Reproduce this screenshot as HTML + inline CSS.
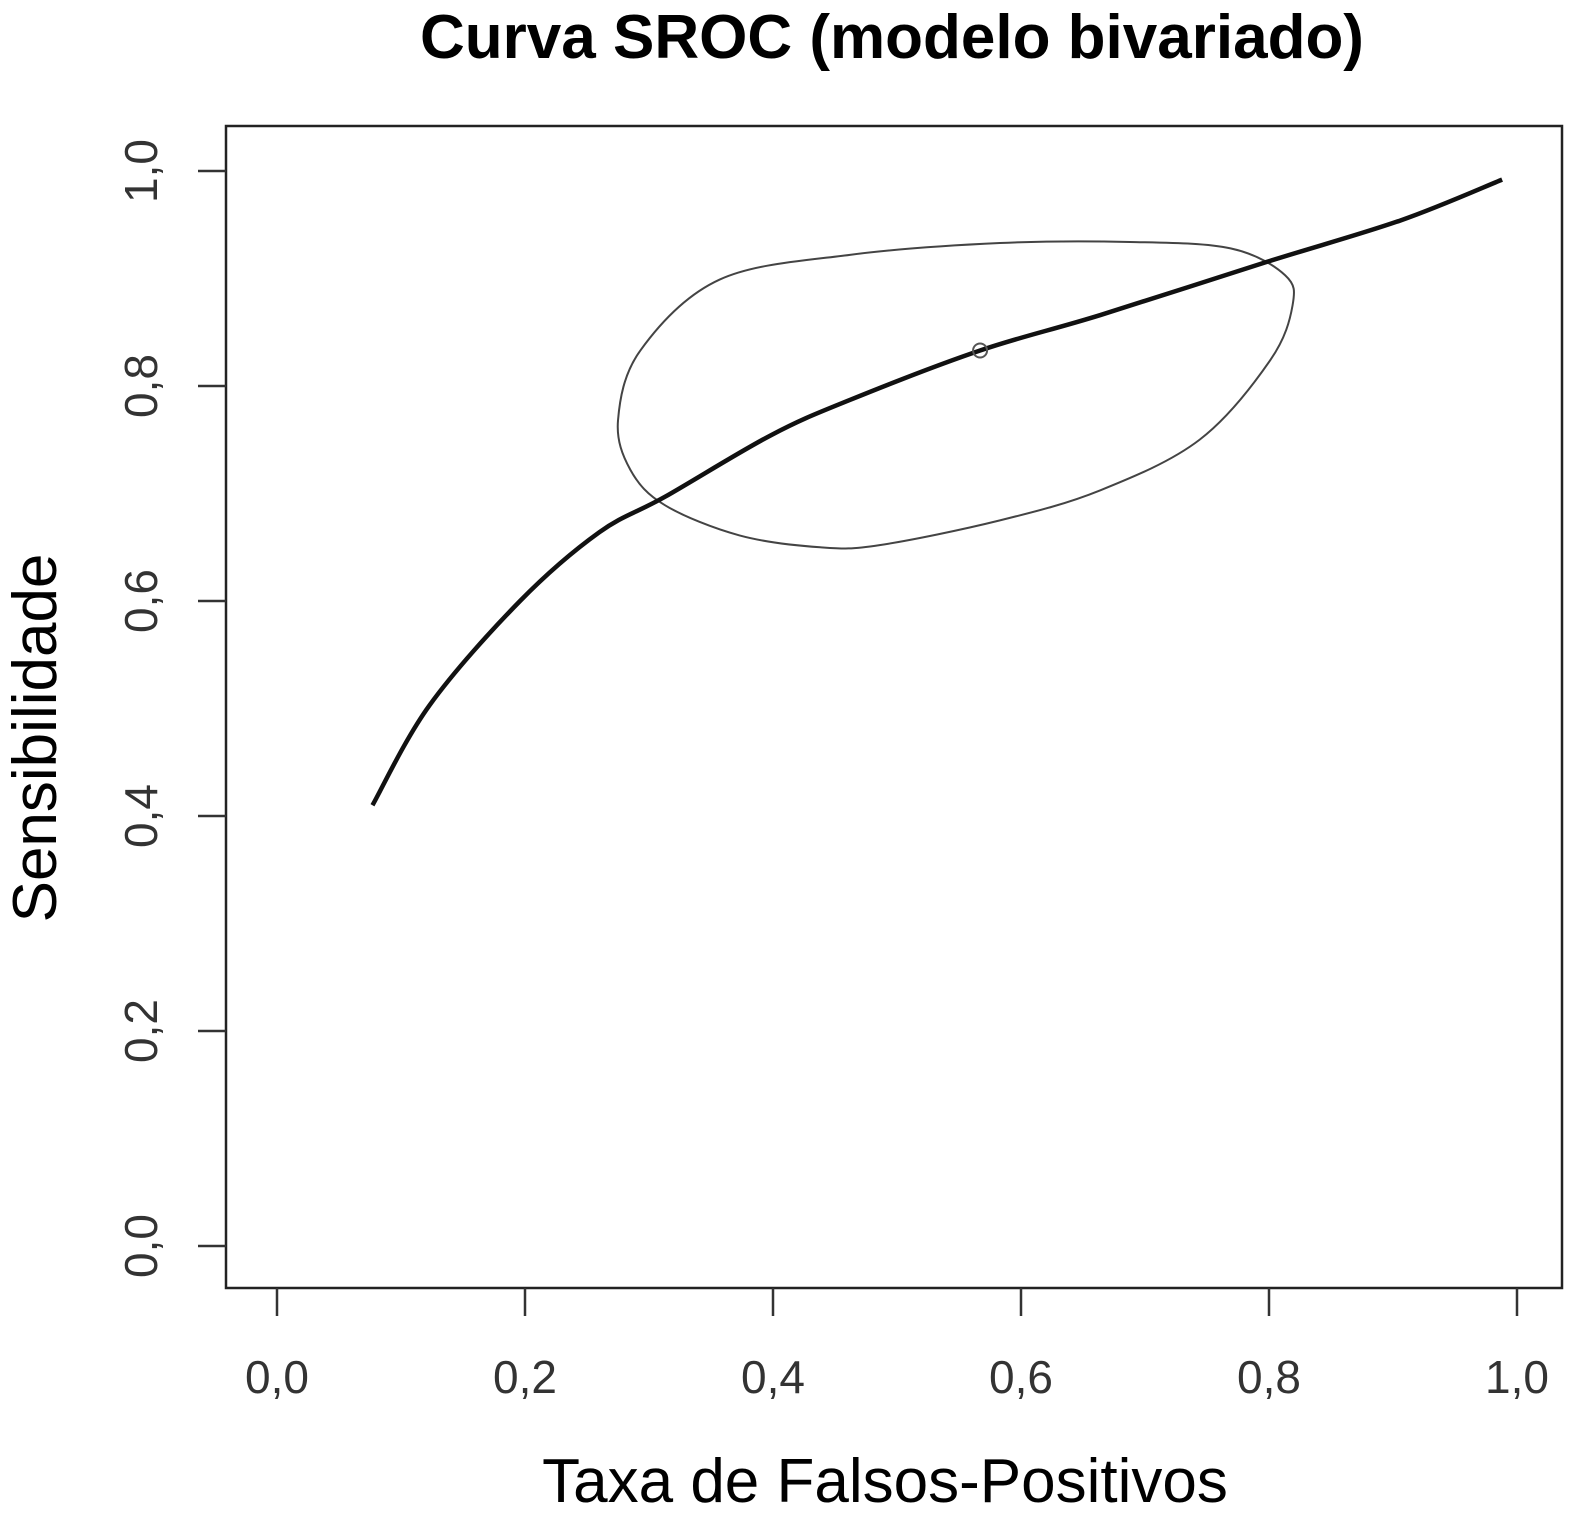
<!DOCTYPE html>
<html><head><meta charset="utf-8"><style>
body{margin:0;background:#fff}
svg{display:block;font-family:"Liberation Sans",Arial,sans-serif}
</style></head><body>
<svg id="chart" width="1583" height="1527" viewBox="0 0 1583 1527">
<text x="892" y="58" text-anchor="middle" font-size="62" font-weight="bold">Curva SROC (modelo bivariado)</text>
<rect x="226" y="126" width="1336" height="1162" fill="none" stroke="#222" stroke-width="2.5"/>
<g id="xaxis"></g>
<g id="yaxis"></g>
<text x="885" y="1502" text-anchor="middle" font-size="62">Taxa de Falsos-Positivos</text>
<text transform="translate(56,738) rotate(-90)" text-anchor="middle" font-size="62">Sensibilidade</text>
<g id="marks"></g>
</svg>
<script>
const xTicks=[0,0.2,0.4,0.6,0.8,1.0];
const yTicks=[0,0.2,0.4,0.6,0.8,1.0];
const tickLabels=["0,0","0,2","0,4","0,6","0,8","1,0"];
const srocFpr=[0.077,0.123,0.196,0.26,0.313,0.398,0.462,0.567,0.664,0.797,0.906,0.988];
const srocSens=[0.41,0.503,0.60,0.664,0.697,0.754,0.787,0.833,0.866,0.915,0.954,0.992];
const ellFpr=[0.275,0.293,0.357,0.462,0.583,0.688,0.769,0.813,0.819,0.801,0.744,0.664,0.583,0.486,0.438,0.373,0.313,0.285];
const ellSens=[0.768,0.833,0.899,0.922,0.933,0.934,0.928,0.903,0.875,0.824,0.75,0.703,0.675,0.652,0.650,0.661,0.689,0.722];
const summaryFpr=[0.567];
const summarySens=[0.833];
const NS="http://www.w3.org/2000/svg";
const sx=v=>277+v*1240, sy=v=>1246-v*1075;
function mk(tag,parent,attrs){const e=document.createElementNS(NS,tag);for(const k in attrs)e.setAttribute(k,attrs[k]);parent.appendChild(e);return e;}
function smooth(pts,closed){
  const n=pts.length;let d='M'+pts[0][0]+','+pts[0][1];
  const last=closed?n:n-1;
  for(let i=0;i<last;i++){
    const g=j=>closed?pts[(j+n)%n]:pts[Math.max(0,Math.min(n-1,j))];
    const p0=g(i-1),p1=g(i),p2=g(i+1),p3=g(i+2);
    const c1=[p1[0]+(p2[0]-p0[0])/6,p1[1]+(p2[1]-p0[1])/6];
    const c2=[p2[0]-(p3[0]-p1[0])/6,p2[1]-(p3[1]-p1[1])/6];
    d+=` C${c1[0]},${c1[1]} ${c2[0]},${c2[1]} ${p2[0]},${p2[1]}`;
  }
  return d+(closed?'Z':'');
}
const xa=document.getElementById('xaxis'), ya=document.getElementById('yaxis'), m=document.getElementById('marks');
xTicks.forEach((t,i)=>{
  const l=mk('line',xa,{x1:sx(t),x2:sx(t),y1:1288,y2:1316,stroke:'#333','stroke-width':2.5});
  
  
  const tx=mk('text',xa,{x:sx(t),y:1393,'text-anchor':'middle','font-size':46,fill:'#333'});
  tx.textContent=tickLabels[i];
  
  
});
yTicks.forEach((t,i)=>{
  const l=mk('line',ya,{x1:198,x2:226,y1:sy(t),y2:sy(t),stroke:'#333','stroke-width':2.5});
  
  
  const tx=mk('text',ya,{transform:`translate(157,${sy(t)}) rotate(-90)`,'text-anchor':'middle','font-size':46,fill:'#333'});
  tx.textContent=tickLabels[i];
  
  
});
const ep=ellFpr.map((v,i)=>[sx(v),sy(ellSens[i])]);
const el=mk('path',m,{d:smooth(ep,true),fill:'none',stroke:'#444','stroke-width':2});


const cp=srocFpr.map((v,i)=>[sx(v),sy(srocSens[i])]);
const cl=mk('path',m,{d:smooth(cp,false),fill:'none',stroke:'#111','stroke-width':4.5,'stroke-linejoin':'round'});


summaryFpr.forEach((v,i)=>{
  const c=mk('circle',m,{cx:sx(v),cy:sy(summarySens[i]),r:7,fill:'none',stroke:'#555','stroke-width':2});
  
  
});
</script>
</body></html>
